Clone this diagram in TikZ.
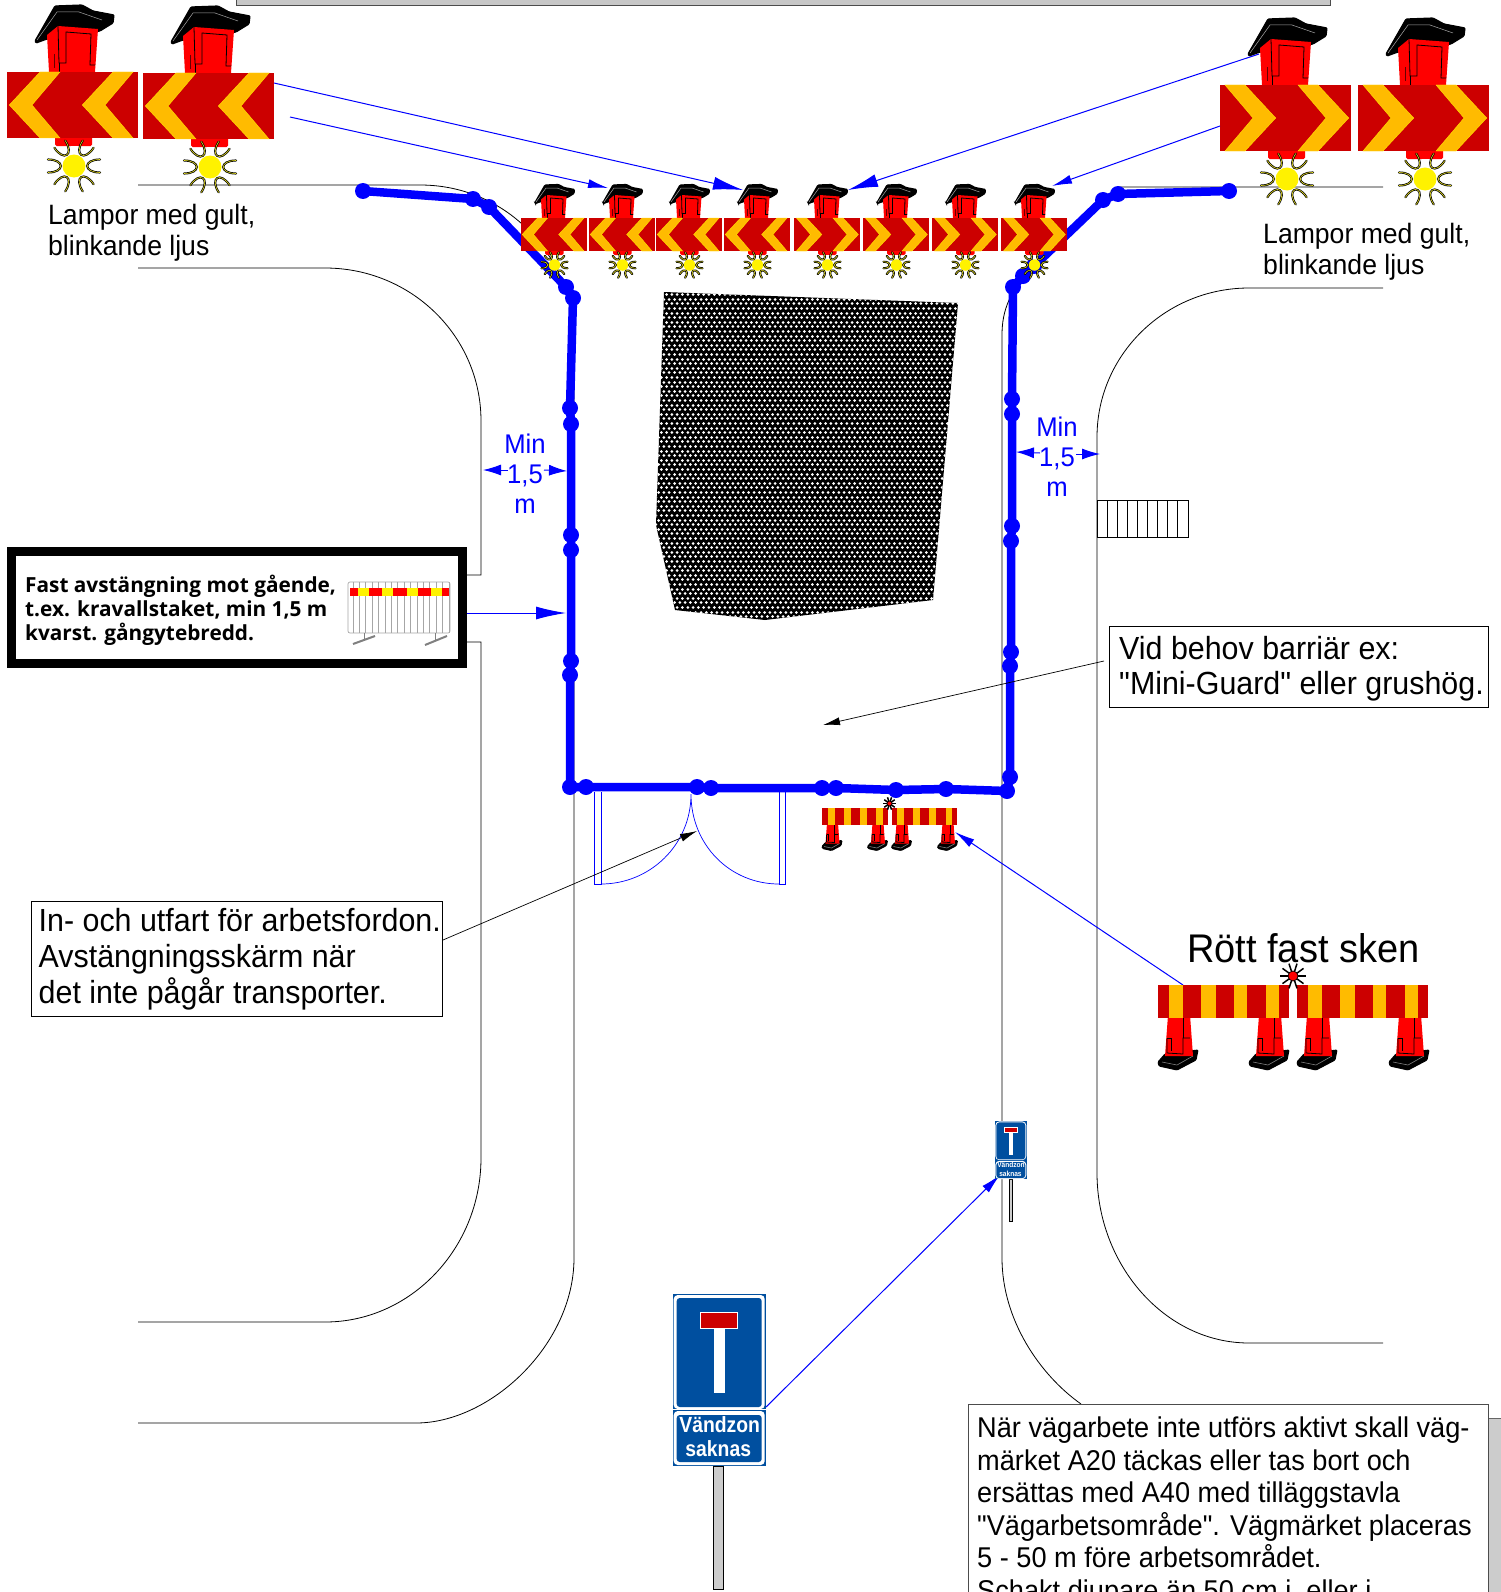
\documentclass[tikz,border=0pt]{standalone}
\usepackage{fontspec}
\usetikzlibrary{arrows.meta}
\setmainfont{Liberation Sans}[FakeStretch=0.95,Ligatures=TeXOff]
\newfontfamily\fastfont{Open Sans}
\newfontfamily\signfont{Liberation Sans Bold}[FakeStretch=0.88]
\definecolor{boardred}{HTML}{CC0000}
\definecolor{amber}{HTML}{FFBB00}
\definecolor{amberlt}{HTML}{FFE000}
\definecolor{conered}{HTML}{FF0000}
\definecolor{signblue}{HTML}{004F9F}
\definecolor{raycol}{HTML}{E8E020}
\newcommand{\LampBody}{%
  \fill[black,draw=black,line width=1.2pt,rounded corners=1pt] (28,-31) -- (48,-66) -- (75,-67) -- (86,-61) -- (107,-57) -- (106,-49) -- (93,-41) -- (40,-33) -- (29,-29) -- cycle;
  \draw[gray!70,line width=.5pt] (30,-32) -- (50,-60) -- (72,-60) -- (95,-52);
  \fill[conered] (40,-37) -- (51,-46) -- (91,-43) -- (88,0) -- (42,0) -- cycle;
  \draw[black,line width=.8pt] (51,-46) -- (52,-9) -- (59,-9) -- (59,-40) -- (84,-38) -- (83,-7) -- (88,-7);
  \draw[black!60!red,line width=1pt] (47,-18) -- (47,-4);
  \draw[black,line width=.6pt] (52,-9) -- (52,0);
  \fill[conered,rounded corners=1.5pt] (48,60) rectangle (85,74);
  \fill[white] (64,74) rectangle (71,84);
  \foreach \a in {0,57,123,180,237,303}{
    \begin{scope}[shift={(67,94)},rotate=\a]
      \draw[black,line width=2.1pt,line cap=round] (26,-6.5) .. controls (9,-6.5) and (9,6.5) .. (26,6.5);
      \draw[raycol,line width=.6pt,line cap=round] (26,-6.5) .. controls (9,-6.5) and (9,6.5) .. (26,6.5);
    \end{scope}}
  \fill[yellow] (67,94) circle[radius=11.5pt];
}
\tikzset{
  lampL/.pic={
    \LampBody
    \fill[boardred] (0,0) rectangle (131,66);
    \foreach \d in {0,73}{
      \fill[amber,draw=amberlt,line width=.4pt] (2.3+\d,33) -- (33+\d,0) -- (53+\d,0) -- (25+\d,33) -- (53+\d,66) -- (33+\d,66) -- cycle;}
  },
  lampR/.pic={
    \LampBody
    \fill[boardred] (0,0) rectangle (131,66);
    \foreach \d in {0,73}{
      \fill[amber,draw=amberlt,line width=.4pt] (128.7-\d,33) -- (98-\d,0) -- (78-\d,0) -- (106-\d,33) -- (78-\d,66) -- (98-\d,66) -- cycle;}
  },
  barrierpair/.pic={
    \foreach \c in {21,112,160,252}{
      \begin{scope}[shift={(\c,0)}]
        \fill[black,draw=black,line width=1pt,rounded corners=1pt] (-21,77) -- (-14,69) -- (19,65) -- (17,75) -- (-2,85) -- (-20,81) -- cycle;
        \draw[gray,line width=.6pt] (-17,77) -- (-2,80) -- (14,71);
        \fill[conered] (-11,30) -- (11,30) -- (14,71) -- (-14,71) -- cycle;
        \draw[black,line width=.8pt] (-12,53) -- (-12,68) -- (4,69) -- (4,53) -- (11,53);
        \draw[black,line width=.8pt] (-12,53) -- (-8,53) -- (-8,66);
        \draw[black,line width=.8pt] (4,30) -- (4,53);
      \end{scope}}
    \foreach \o in {0,139}{
      \fill[boardred] (\o,0) rectangle (131+\o,33);
      \foreach \s/\e in {11/25,43/57.6,75.6/89,108/121}{
        \fill[amber] (\s+\o,0) rectangle (\e+\o,33);}}
    \foreach \a in {0,36,...,324}{
      \draw[black,line width=1.5pt,shift={(135,-9)},rotate=\a] (4,0) -- (13,0);}
    \fill[red,draw=black,line width=.7pt] (135,-9) circle[radius=5pt];
  },
  deadendsign/.pic={
    \fill[black!20,draw=black,line width=.6pt] (41,172) rectangle (51,295);
    \fill[signblue] (0,0) rectangle (93,115);
    \fill[white,rounded corners=4pt] (1,1) rectangle (92,115);
    \fill[signblue,rounded corners=3pt] (4,4) rectangle (89,113);
    \fill[white] (41,30) rectangle (52,99);
    \fill[boardred,draw=white,line width=.5pt] (28,18) rectangle (65,34);
    \fill[signblue] (0,116) rectangle (93,172);
    \fill[white,rounded corners=4pt] (1,117) rectangle (92,171);
    \fill[signblue,rounded corners=3pt] (4,121) rectangle (89,168);
    \node[transform shape,anchor=base,inner sep=0,white,font=\signfont\fontsize{22}{26}\selectfont] (-t1) at (47,138) {Vändzon};
    \node[transform shape,anchor=base,inner sep=0,white,font=\signfont\fontsize{22}{26}\selectfont] (-t2) at (45.5,162) {saknas};
  },
  road/.style={draw=black,line width=.8pt},
  fence/.style={draw=blue,line width=8.5pt,line join=round},
  thinblue/.style={draw=blue,line width=1pt},
  bluebig/.style={thinblue,-{Latex[length=30pt,width=13pt]}},
  bluesmall/.style={thinblue,-{Latex[length=20pt,width=9pt]}},
  dimarrow/.style={thinblue,-{Latex[length=18pt,width=11pt]}},
  callout/.style={draw=black,line width=.7pt,-{Latex[length=17pt,width=8pt]}},
  boxed/.style={draw=black,line width=.7pt,fill=white,anchor=north west,inner sep=0},
  label/.style={anchor=north west,inner sep=0,align=left},
  bluelabel/.style={anchor=north,inner sep=0,align=center,text=blue,font=\fontsize{27}{30}\selectfont},
  netrow/.style={draw=white,line width=3pt,line cap=round,dash pattern=on 0.01pt off 5.29pt},
}
\begin{document}
\begin{tikzpicture}[x=1pt,y=-1pt]
\useasboundingbox (0,0) rectangle (1501,1592);
\clip (0,0) rectangle (1501,1592);
% top bar
\node[draw=black!70,line width=.8pt,fill=black!22,anchor=north west,inner sep=0,minimum width=1094pt,minimum height=14pt] (topbar) at (236,-9) {};
% roads
\path[road] (138,185) -- (420,185) .. controls (510,185) and (574,260) .. (574,340) -- (574,1258) .. controls (574,1345) and (490,1423) .. (416,1423) -- (138,1423);
\path[road] (138,268) -- (325,268) .. controls (411,268) and (481,336) .. (481,421) -- (481,575) -- (467,575);
\path[road] (467,642) -- (481,642) -- (481,1158) .. controls (481,1248) and (411,1322) .. (325,1322) -- (138,1322);
\path[road] (1383,187) -- (1120,187) -- (1103,199) -- (1034,266) .. controls (1010,290) and (1002,310) .. (1002,335) -- (1002,1258) .. controls (1002,1320) and (1040,1375) .. (1081,1404);
\path[road] (1383,288) -- (1249,288) .. controls (1165,288) and (1097,355) .. (1097,437) -- (1097,1173) .. controls (1097,1265) and (1165,1343) .. (1249,1343) -- (1383,1343);
% small grid
\draw[road] (1097,500) rectangle (1188,537);
\foreach \i in {1,...,8}{\draw[road] ({1097+\i*10.1},500) -- ({1097+\i*10.1},537);}
% hatched patch
\begin{scope}
  \clip (664,292) -- (958,303) -- (933,600) -- (765,620) -- (675,610) -- (656,525) -- cycle;
  \fill[black] (640,285) rectangle (970,630);
  \foreach \r in {0,...,72}{
     \draw[netrow] ({648+mod(\r,2)*2.65},{290+\r*4.6}) -- ({970},{290+\r*4.6});}
\end{scope}
% entrance gates
\draw[thinblue,line width=.7pt] (594,792) -- (594,884) -- (601,884) -- (601,792);
\draw[thinblue,line width=.7pt] (779,884) -- (785,884) -- (785,792) (779,792) -- (779,884);
\draw[thinblue,line width=.7pt] (601,884) .. controls (650,884) and (691,845) .. (691,794) .. controls (691,845) and (730,884) .. (779,884);
% fence
\foreach \n/\x/\y in {a1/363/191,a2/473/199,a3/489/207,a4/566/287,a5/573/298,a6/570/408,a7/571/424,a8/571/535,a9/571/550,a10/571/661,a11/570/675,a12/570/787,
  b1/586/787,b2/697/787,b3/711/788,b4/822/788,b5/836/788,b6/896/790,b7/946/789,b8/1007/791,
  c1/1010/777,c2/1010/666,c3/1011/652,c4/1011/541,c5/1012/526,c6/1012/414,c7/1012/399,c8/1013/287,c9/1023/276,c10/1034/266,c11/1103/200,c12/1118/194,c13/1229/191}{
  \coordinate (\n) at (\x,\y);
  \fill[blue] (\n) circle[radius=8pt];}
\draw[fence] (a1) -- (a2) -- (a3) -- (a4) -- (a5) -- (a6) -- (a7) -- (a8) -- (a9) -- (a10) -- (a11) -- (a12) -- (b1) -- (b2) -- (b3) -- (b4) -- (b5) -- (b6) -- (b7) -- (b8) -- (c1) -- (c2) -- (c3) -- (c4) -- (c5) -- (c6) -- (c7) -- (c8) -- (c9) -- (c10) -- (c11) -- (c12) -- (c13);
% big lamps
\pic (bl1) at (7,72) {lampL};
\pic (bl2) at (143,73) {lampL};
\pic (br1) at (1220,85) {lampR};
\pic (br2) at (1358,85) {lampR};
% small lamps
\pic[scale=.5] (sl1) at (521,218) {lampL};
\pic[scale=.5] (sl2) at (589,218) {lampL};
\pic[scale=.5] (sl3) at (656,218) {lampL};
\pic[scale=.5] (sl4) at (724,218) {lampL};
\pic[scale=.5] (sr1) at (794,218) {lampR};
\pic[scale=.5] (sr2) at (863,218) {lampR};
\pic[scale=.5] (sr3) at (932,218) {lampR};
\pic[scale=.5] (sr4) at (1001,218) {lampR};
% labels
\node[label,font=\fontsize{28}{31.5}\selectfont] (lampL) at (48,202) {\strut Lampor med gult,\\blinkande ljus};
\node[label,font=\fontsize{28}{31}\selectfont] (lampR) at (1263,221.5) {\strut Lampor med gult,\\blinkande ljus};
\node[bluelabel] (minL) at (525,432) {\strut Min\\1,5\\m};
\node[bluelabel] (minR) at (1057,415) {\strut Min\\1,5\\m};
% connector ends
\coordinate (p1) at (274,83);  \coordinate (t1) at (743,190);
\coordinate (p2) at (290,117); \coordinate (t2) at (608,188);
\coordinate (p3) at (1259,54); \coordinate (t3) at (848,190);
\coordinate (p4) at (1220,126);\coordinate (t4) at (1052,186);
\coordinate (p5) at (467,613); \coordinate (t5) at (566,613);
\coordinate (p6) at (1183,985);\coordinate (t6) at (955,832);
\coordinate (p7) at (765,1408);\coordinate (t7) at (1000,1175);
\coordinate (p8) at (1104,661);\coordinate (t8) at (823,725);
\coordinate (p9) at (443,940); \coordinate (t9) at (697,831);
\draw[bluebig] (p1) -- (t1);
\draw[bluesmall] (p2) -- (t2);
\draw[bluebig] (p3) -- (t3);
\draw[bluesmall] (p4) -- (t4);
\draw[bluebig] (p5) -- (t5);
\draw[bluesmall] (p6) -- (t6);
\draw[bluesmall] (p7) -- (t7);
\draw[callout] (p8) -- (t8);
\draw[callout] (p9) -- (t9);
% dimension arrows
\coordinate (d1) at (508,470); \coordinate (d1t) at (483,470);
\coordinate (d2) at (544,470); \coordinate (d2t) at (567,471);
\coordinate (d3) at (1040,453);\coordinate (d3t) at (1016,452);
\coordinate (d4) at (1076,454);\coordinate (d4t) at (1100,454);
\draw[dimarrow] (d1) -- (d1t);
\draw[dimarrow] (d2) -- (d2t);
\draw[dimarrow] (d3) -- (d3t);
\draw[dimarrow] (d4) -- (d4t);
% fence box
\node[draw=black,line width=9pt,fill=white,anchor=north west,inner sep=0,minimum width=451pt,minimum height=112pt] (fastbox) at (7,547) {};
\node[label,font=\fastfont\bfseries\fontsize{20.8}{24}\selectfont] (fasttext) at (25,575) {\strut Fast avstängning mot gående,\\t.ex. kravallstaket, min 1,5 m\\kvarst. gångytebredd.};
\foreach \i in {0,...,15}{\draw[gray!70,line width=.7pt] ({353+\i*6.4},582) -- ({353+\i*6.4},633);}
\draw[gray!70,line width=.7pt,rounded corners=2pt] (348,582) rectangle (450,633);
\fill[red] (350,588) rectangle (449,596);
\foreach \i in {0,...,3}{\fill[yellow] ({358+\i*24.3},588) rectangle ({369+\i*24.3},596);}
\draw[gray,line width=2pt] (353,644) -- (375,636);
\draw[gray,line width=2pt] (425,645) -- (447,636);
\draw[gray,line width=.8pt] (364,633) -- (364,640) (435,633) -- (435,641);
% callout boxes
\node[boxed,minimum width=379pt,minimum height=81pt] (vidbox) at (1109,626) {};
\node[label,font=\fontsize{32}{35.5}\selectfont] (vidtext) at (1119,634) {\strut Vid behov barriär ex:\\"Mini-Guard" eller grushög.};
\node[boxed,minimum width=411pt,minimum height=115pt] (inbox) at (30.5,901) {};
\node[label,font=\fontsize{32}{36}\selectfont] (intext) at (38.5,906) {\strut In- och utfart för arbetsfordon.\\Avstängningsskärm när\\det inte pågår transporter.};
% barriers
\pic (bar1) at (1158,985) {barrierpair};
\pic[scale=.5] (bar2) at (822,808) {barrierpair};
\node[anchor=base west,inner sep=0,font=\fontsize{40}{44}\selectfont] (rott) at (1187,962) {Rött fast sken};
% signs
\pic (sign1) at (672.7,1294) {deadendsign};
\pic[scale=.34] (sign2) at (995,1121) {deadendsign};
% info box
\fill[black!20,draw=black!60,line width=.6pt] (1478,1418) rectangle (1510,1600);
\node[boxed,draw=black!70,minimum width=520pt,minimum height=220pt] (infobox) at (968,1403.5) {};
\node[label,font=\fontsize{28.6}{32.5}\selectfont] (infotext) at (977,1415) {\strut När vägarbete inte utförs aktivt skall väg-\\märket A20 täckas eller tas bort och\\ersättas med A40 med tilläggstavla\\"Vägarbetsområde". Vägmärket placeras\\5 - 50 m före arbetsområdet.\\Schakt djupare än 50 cm i, eller i};
\end{tikzpicture}
\end{document}
